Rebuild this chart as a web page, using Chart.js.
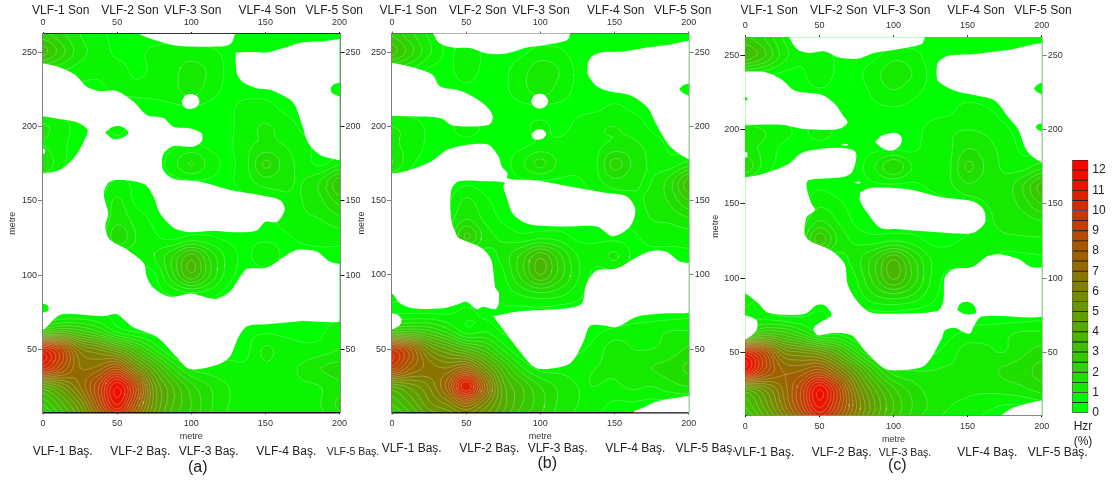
<!DOCTYPE html>
<html>
<head>
<meta charset="utf-8">
<script src="https://cdn.jsdelivr.net/npm/chart.js@4/dist/chart.umd.min.js"></script>
<style>
  body { margin: 0; background: #fff; width: 1113px; height: 481px; overflow: hidden; position: relative; font-family: "Liberation Sans", Arial, sans-serif; }
  canvas { position: absolute; left: 0; top: 0; }
  .lbl { position: absolute; transform: translate(-50%, -50%); white-space: nowrap; color: #222; font-size: 12px; z-index: 5; }
</style>
</head>
<body>
<canvas id="panelA" width="1113" height="481"></canvas>
<canvas id="panelB" width="1113" height="481"></canvas>
<canvas id="panelC" width="1113" height="481"></canvas>
<canvas id="scaleBar" width="1113" height="481"></canvas>
<script>
const gridX = [0, 12.5, 25, 37.5, 50, 62.5, 75, 87.5, 100, 112.5, 125, 137.5, 150, 162.5, 175, 187.5, 200];
const gridY = [262.5, 250, 237.5, 225, 212.5, 200, 187.5, 175, 162.5, 150, 137.5, 125, 112.5, 100, 87.5, 75, 62.5, 50, 37.5, 25, 12.5, 0];
const xTicks = [0, 50, 100, 150, 200];
const yTicks = [50, 100, 150, 200, 250];
const hzrTicks = [0, 1, 2, 3, 4, 5, 6, 7, 8, 9, 10, 11, 12];
const hzrLevels = [0.5, 1, 1.5, 2, 2.5, 3, 3.5, 4, 4.5, 5, 5.5, 6, 6.5, 7, 7.5, 8, 8.5, 9, 9.5, 10, 10.5, 11, 11.5, 12];

const fieldA = [
  [2.2,1.6,1,.6,.4,.3,.3,.3,.3,.3,.3,.3,.3,.3,.3,.3,.3],
  [3.2,2.2,1.2,.8,.4,.4,.6,.7,.7,.6,.4,.3,.3,.3,.3,.3,.3],
  [1.2,1,.7,.6,.7,.4,.6,.8,1.3,.9,.4,.3,.2,.2,.2,.2,.2],
  [.4,.4,.4,.4,.6,.6,.7,.8,1.3,.7,.4,.3,.3,.2,.2,.2,.4],
  [.3,.3,.3,.3,.3,.3,.3,.4,.4,.4,.4,.7,.7,.4,.3,.2,.2],
  [1.1,.7,.3,.2,.7,.2,.2,.2,.4,.4,.4,.8,1.05,.8,.4,.2,.2],
  [1,.6,.3,.2,.2,.2,.2,.4,.6,.4,.4,.9,1.1,1,.7,.3,.2],
  [1.5,.6,.3,.2,.2,.2,.2,.8,1.55,.8,.4,.9,2.1,1.3,.8,.4,.9],
  [.4,.3,.2,.2,.6,.4,.3,.3,.4,.4,.4,.8,1.2,1.1,1,1.6,2.9],
  [.2,.2,.2,.4,1.1,.4,.2,.2,.2,.2,.2,.4,.6,.9,1,1.4,2.2],
  [.2,.2,.2,.4,1.3,.8,.4,.2,.2,.2,.2,.2,.3,.7,.9,1,1.3],
  [.2,.2,.2,.4,1.9,1,.6,.4,.7,.6,.4,.4,.4,.4,.6,.7,.7],
  [.2,.2,.2,.2,.4,.7,1,2,3.3,1.9,.8,.4,.9,.4,.3,.3,.3],
  [.2,.2,.2,.2,.2,.3,.4,1.9,3.4,2,.7,.3,.2,.2,.2,.2,.2],
  [.2,.2,.2,.2,.2,.2,.3,.6,.9,.7,.3,.2,.2,.2,.2,.2,.2],
  [.3,.3,.4,.4,.4,.2,.2,.2,.2,.2,.2,.2,.2,.2,.2,.2,.2],
  [2.5,3,2.6,1.9,.8,.4,.3,.2,.2,.2,.2,.4,.4,.4,.4,.4,.9],
  [10.5,8.8,6.2,5.5,4.5,3,1.5,.4,.2,.2,.4,.4,1.1,.7,.6,.7,1],
  [10.3,8.6,7,7.2,8.2,5.8,3.8,2,.9,.7,.6,.6,.9,.8,1.1,1.5,1.7],
  [4.5,5.5,7,9,11.5,9,5.2,3.5,2.2,1.5,1,.8,.8,.8,.9,1,1.4],
  [2.5,3.8,5.5,8.4,11,8.2,5.2,3.5,2.5,1.6,1,.8,.7,.7,.7,1,1.6],
  [1.5,3,4.5,6.4,8.2,6.4,4.5,3,2.2,1.4,.9,.7,.6,.6,.6,.8,1.2]
];
const fieldB = [
  [2.4,1.6,.9,.4,.3,.2,.2,.2,.2,.2,.2,.2,.4,.3,.2,.2,.2],
  [3.2,2.2,1.1,.4,.8,.4,.3,.4,.7,.6,.3,.2,.2,.2,.2,.2,.2],
  [1.2,.9,.4,.4,.7,.4,.4,.8,1.3,1,.4,.2,.2,.2,.2,.2,.2],
  [.3,.3,.3,.3,.4,.3,.4,.8,1.3,.8,.4,.3,.2,.2,.2,.2,.4],
  [.2,.2,.2,.2,.2,.2,.3,.4,.4,.4,.4,.4,.6,.4,.3,.2,.2],
  [1,.8,.4,.4,.7,.4,.3,.4,.6,.4,.6,.9,1,.8,.4,.2,.2],
  [1.1,.8,.4,.3,.3,.3,.3,.4,.6,.6,.7,.9,1.1,1.1,.8,.4,.2],
  [1.5,.6,.3,.2,.2,.2,.3,.9,1.65,.9,.7,.9,2.2,1.4,.9,.7,1.2],
  [.3,.2,.2,.2,.4,.3,.3,.4,.4,.4,.4,.8,1.3,1.1,1,1.8,3.3],
  [.2,.2,.2,.4,1.1,.6,.3,.2,.2,.2,.2,.3,.6,.9,1.1,1.6,2.5],
  [.2,.2,.2,.7,1.5,.9,.4,.2,.2,.2,.2,.2,.3,.7,1,1.1,1.4],
  [.2,.2,.2,.8,2.6,1.3,.9,.7,.9,.8,.4,.4,.4,.4,.7,.7,.7],
  [.2,.2,.2,.2,.4,.7,1.2,2.2,3.4,2.2,1,.7,1.1,.4,.3,.3,.4],
  [.2,.2,.2,.2,.2,.3,.9,2.2,3.5,2.3,1.1,.3,.3,.2,.2,.2,.2],
  [.8,.4,.2,.2,.2,.3,.7,1.1,1.4,1.2,.7,.2,.2,.2,.2,.2,.2],
  [.4,.4,.4,.4,.6,.4,.4,.3,.3,.2,.2,.2,.2,.2,.2,.2,.3],
  [2.8,2.8,2.5,1.7,.7,.9,.4,.2,.2,.2,.2,.4,.6,.7,.8,1,1],
  [9.5,8,5.5,4.5,3.6,2.8,1.4,.4,.2,.2,.4,.7,1.3,1,1,1.2,1.6],
  [9.3,7.6,6.8,6.5,7.2,5.2,3.2,1.6,.8,.8,.8,1,1.1,1.3,1.5,1.7,2.1],
  [4.5,5.2,6,7.8,11,7.5,4.2,3,2,1.4,1,1,.9,1.1,1,1.3,1.5],
  [3,4,5.3,6,7.2,5.8,4.2,3,2.2,1.4,1,.7,.4,.4,.3,.3,.3],
  [2,3,4,4.4,5,4.4,3.6,2.4,1.8,1.2,.8,.4,.3,.2,.2,.2,.2]
];
const fieldC = [
  [2.6,2,1,.4,.2,.2,.2,.2,.2,.2,.2,.2,.4,.3,.2,.2,.2],
  [3.4,2.6,1.3,.6,.8,.4,.3,.4,.8,.7,.3,.2,.3,.2,.2,.2,.2],
  [.9,.7,.4,.4,.8,.4,.4,.8,1.4,1,.4,.2,.2,.2,.2,.2,.2],
  [.3,.3,.3,.3,.4,.3,.3,.6,.9,.6,.4,.3,.2,.2,.2,.2,.4],
  [.2,.2,.2,.2,.2,.2,.3,.4,.4,.4,.4,.4,.8,.6,.3,.2,.2],
  [1.2,1,.7,.4,.7,.4,.3,.4,.4,.4,.6,.9,1,.9,.6,.3,.3],
  [1.1,.9,.4,.3,.3,.3,.3,.4,.4,.4,.7,.9,1.5,1.2,.8,.4,.3],
  [1.9,.8,.3,.2,.2,.2,.3,1,2,1,.7,.9,2.1,1.4,.9,.8,1.3],
  [.3,.2,.2,.2,.4,.3,.3,.4,.4,.4,.6,.9,1.4,1.2,1.2,2,3.2],
  [.2,.2,.2,.4,.9,.6,.3,.2,.2,.2,.2,.4,.7,1,1.2,1.7,2.5],
  [.2,.2,.2,.7,1.6,1,.4,.2,.2,.2,.2,.2,.4,.8,1.2,1.2,1.4],
  [.2,.2,.2,.9,2.8,1.4,.9,.8,1,.8,.4,.4,.6,.7,.8,.9,.9],
  [.2,.2,.2,.2,.4,.7,1.3,2.3,3.5,2.2,1,.7,1,.6,.3,.3,.4],
  [.2,.2,.2,.2,.2,.3,1,2.3,3.6,2.4,1,.3,.3,.2,.2,.2,.2],
  [1.2,.7,.2,.2,.2,.3,.7,1.4,1.7,1.4,.7,.2,.2,.2,.2,.2,.2],
  [.9,.7,.4,.4,.6,.3,.3,.3,.3,.2,.2,.2,.4,.2,.2,.2,.3],
  [2.2,3,2.8,2,1,.9,.4,.2,.2,.2,.2,.4,.6,.8,.9,1.1,1.1],
  [10.2,8.6,6,5.5,5,3.8,2,.7,.2,.2,.4,.7,1.3,1.1,1,1.4,1.7],
  [11.2,9,7.5,7.5,8.2,6.5,4.5,2.5,1.2,1,1,1.1,1.1,1.3,1.6,1.8,2.2],
  [4.5,5.5,7,9,11.5,9.2,6,4,2.6,1.8,1.3,1.2,1.1,1.1,1.2,1.4,1.7],
  [3,4.5,6.5,8.7,11,9,6.5,4.5,3,2,1.4,1,.8,.6,.4,.4,.6],
  [2,3.5,5,7,8.8,7.5,5.5,3.8,2.5,1.6,1,.7,.4,.3,.2,.2,.3]
];

// outlines (metre, metre) of the blanked areas, nested outlines cut back to green
const blankA = [
  [[64,266],[66,262],[77,258],[88,255],[101,254],[115,254],[125,255],[128,258],[129,266]],
  [[130,250],[142,250.4],[151,250],[162,253],[173,256.5],[187,257.4],[206,257],[206,177],[200,177.5],[187,181],[179,189],[174.5,202],[169,216],[160,222],[153,225],[144,226],[135,230],[131,235],[130,242.6]],
  [[203,230],[196,228.5],[194,225],[196,222],[203,220.5]],
  [[-6,242.6],[0,242.6],[11.5,240],[21.6,235],[29.5,227],[38.5,224],[50,224],[61,217],[70,208],[81,206],[88,200],[99,199],[107,195.5],[107,190],[101,186.5],[88,187],[81,181],[81,171],[88,165],[106,163],[128,157],[146,154],[160,150.5],[163,144],[158,136],[150,136],[144,130],[128,129],[115,130],[99,129],[88,132],[79,141.5],[74.5,153],[69,161],[56,164],[45,163],[41,155],[44,141.5],[42,132.6],[45,124],[57,117],[68,108],[70,99],[75,91],[86,85.4],[100,87.7],[116,84],[126,89],[133,99],[138,104.5],[151,105],[162,112],[171,117],[184.6,116],[193.6,109],[206,105],[206,71],[173,69],[151,67],[138,65.7],[132,58.5],[126,45],[117,39.4],[99,36.7],[90,45],[76.7,58.5],[61,64.8],[55,69.7],[50,73.7],[40.7,72.4],[13.7,74],[8,70.8],[0,63],[-6,63]],
  [[-3,207],[0,207],[9,205.5],[22.7,203],[30,198],[28,191],[21.6,180],[11.5,171],[0,168.5],[-3,168.5]],
  [[-3,80],[1,80.5],[3.5,79],[3.5,76],[1,75],[-3,75]],
  [[42,196],[46,199.5],[51,200.5],[56,198.5],[57.5,195.5],[53,192.5],[47,192]],
  [[93.5,217],[96,221],[100,222],[104,220.5],[105.5,216.5],[103,213],[98,212],[95,213.5]],
  [[-1,185],[1,185],[1.5,183.5],[1,182],[-1,182]]
];
const blankB = [
  [[27,266],[28,262],[32,256],[41,253],[52.6,252.7],[64,249],[77,249],[91,253],[104,255],[118,258],[120,262],[121,266]],
  [[132,242.6],[134.6,247],[142,250],[156,250.4],[172,253],[187,255],[206,256],[206,178],[200,178],[187.5,186.5],[178.4,201],[172,213],[160.5,221],[147,223.5],[138,227],[132,235]],
  [[203,229.5],[197,228],[194,225],[197,222],[203,220.5]],
  [[-6,242.6],[0,242.6],[16.6,239],[27,235],[32.4,227],[46,224],[58,218],[65,212],[68,206],[65,201],[41,200.6],[33,205.5],[16.6,206.7],[0,207],[-6,207]],
  [[-6,168.5],[0,168.5],[10,170],[25.6,176],[39,185],[64,188],[71.7,180],[74,173],[77.8,168.5],[77.8,165],[97.5,163.6],[120,159.5],[142.5,155.5],[158,153],[164,144],[160.5,132.6],[149,126],[138,132.6],[120,132.6],[93,134],[82,140.5],[77,153],[75,159.5],[76,162],[64,163],[45,163],[40,157],[40,137],[44.6,125],[48,123.5],[60.5,118],[67,110],[69.5,92],[72,88],[71.7,80],[69.5,77],[61.5,78.7],[57,77],[50,82],[43.6,80],[34.6,77.6],[14.4,77.6],[5.4,81],[0,87.6],[-6,87.6]],
  [[68.3,72.4],[84,75.3],[100,76.4],[120,78],[128,81],[131,94],[138,103],[151.5,104.5],[165,112],[174,116],[185,115.6],[194,109],[206,106],[206,77],[183,74],[165,71.9],[151.5,65],[142.5,66],[133.5,65.7],[129,55],[120,40.5],[100,36.7],[93,40.5],[82,54],[71.7,67.5]],
  [[-6,74],[0,74],[4,73],[6.5,70],[5,66],[0,63.5],[-6,63.5]],
  [[160,3],[163,8],[170,11],[178,14.7],[190,17],[206,18],[206,3]],
  [[93.7,217],[96,221],[100,222],[103,221],[105.4,217],[103,213],[99,212],[95.5,213.5]],
  [[94,194.5],[97,197.5],[101,198],[104,195],[102,192],[98,191],[95,192]]
];
const blankC = [
  [[29,266],[30,261.7],[35,254.5],[42.5,252],[53.8,253],[62.8,249],[76,248],[87.5,252],[103,254.5],[119,258],[121,262],[122,266]],
  [[129,239],[130,245.5],[137,250],[152.8,251],[177.5,254],[206,256],[206,178],[200,178],[190,186],[184,200.6],[177.5,208.5],[168.5,219.7],[157,223],[141.5,226.4],[130,233]],
  [[203,232],[198,231],[195,228],[198,225],[203,224]],
  [[203,204.6],[198,204],[196,202],[198,199.8],[203,199]],
  [[-6,239.4],[0,239.4],[13,239],[24.5,234],[33.5,226.4],[51.5,223.7],[60.5,217.5],[66,209.6],[69,205],[63,200.6],[40,200.6],[24.5,203.5],[0,203.4],[-6,203.4]],
  [[-3,222],[1,222],[1.5,221],[1,220],[-3,220]],
  [[87.5,191.6],[92,196],[101,198],[105.5,195],[104.4,189.4],[98.8,186],[92,188]],
  [[-6,168],[0,168],[11,170],[29,177],[39,185],[63,188],[74.5,185],[72,171.4],[65,168],[42.5,166],[41.4,161],[44.8,150],[47,146],[41.4,141],[40,130],[43.6,125],[58,118.6],[67,109.6],[69,96],[75,85],[84,77],[101,76],[130,78],[133.6,85],[134.7,100.6],[140.4,106],[153,107.4],[164,115],[173,116],[184,113],[193,107.4],[206,105.6],[206,76],[159.5,74],[154,67],[151.6,62.5],[147,63.6],[141.5,66.5],[134.8,64.8],[132.5,59],[121,41],[103,37.8],[94,39],[80.7,51],[71.7,61.4],[58,63],[49,61.4],[46,66],[49,69.2],[58,74.9],[53.5,81.6],[48,81.6],[40,75.7],[15.5,76.6],[8.8,83],[0,89.5],[-6,89.5]],
  [[143,78.7],[145,82.7],[149.4,84],[154,82],[155.5,76.4],[148,75.7]],
  [[-6,75],[0,75],[7.6,71.5],[7.6,65],[0,58.5],[-6,58.5]],
  [[77.4,158],[85,161],[110,160],[132.5,154.6],[152.8,152],[160.6,146.7],[161.8,137.7],[155,131],[148,130],[130,131],[103.3,133],[91,134],[83,143],[77.4,152]],
  [[64.6,190],[67,190.7],[69.5,190],[67,189.3]],
  [[73.6,164.5],[76,165.2],[78,164.5],[76,163.8]],
  [[-1,185],[1,185],[1.5,183],[1,181.5],[-1,181.5]],
  [[170,3],[173,7.5],[182,13],[206,17],[206,3]]
];

const topLabels = ['VLF-1 Son', 'VLF-2 Son', 'VLF-3 Son', 'VLF-4 Son', 'VLF-5 Son'];
const bottomLabels = ['VLF-1 Baş.', 'VLF-2 Baş.', 'VLF-3 Baş.', 'VLF-4 Baş.', 'VLF-5 Baş.'];

const panels = [
  { id: 'panelA', tag: '(a)', field: fieldA, blank: blankA, left: 43, right: 339.5, top: 34, bottom: 412.3, yMin: 7.6, yMax: 262.5,
    edge: { l: '#808080', t: '#333', r: '#111', b: '#111' },
    topX: [60.7, 130, 192.7, 267.3, 334.3], topY: 10, botX: [62.7, 140.3, 208.7, 286.3, 353], botY: 450.7, small: 4, tagX: 197.7, tagY: 466.7 },
  { id: 'panelB', tag: '(b)', field: fieldB, blank: blankB, left: 392, right: 688.7, top: 33.5, bottom: 412.3, yMin: 7.6, yMax: 262.5,
    edge: { l: '#808080', t: '#666', r: '#808080', b: '#111' },
    topX: [408.3, 477.7, 541, 615.7, 682.7], topY: 10, botX: [411.7, 489.3, 557.7, 635.3, 705.5], botY: 448.3, small: -1, tagX: 547.3, tagY: 462.7 },
  { id: 'panelC', tag: '(c)', field: fieldC, blank: blankC, left: 745.3, right: 1041.7, top: 37.3, bottom: 415, yMin: 7.6, yMax: 262.5,
    edge: { l: '#222', t: '#222', r: '#808080', b: '#111' },
    topX: [769.3, 838.7, 901.7, 976, 1043], topY: 10, botX: [764.3, 841.7, 905, 987.3, 1057.7], botY: 452.3, small: 2, tagX: 897.3, tagY: 465 }
];

const levelColor = (i) => {
  const k = Math.max(0, Math.min(24, i));
  return [Math.round(255 * k / 24), Math.round(255 * (1 - k / 24)), 0];
};

const cubic = (a, b, c, d, t) =>
  b + 0.5 * t * (c - a + t * (2 * a - 5 * b + 4 * c - d + t * (3 * (b - c) + d - a)));

const sampleField = (field, x, y) => {
  const fx = Math.max(0, Math.min(gridX.length - 1, x / 12.5));
  const fy = Math.max(0, Math.min(gridY.length - 1, (262.5 - y) / 12.5));
  const ix = Math.min(gridX.length - 2, Math.floor(fx));
  const iy = Math.min(gridY.length - 2, Math.floor(fy));
  const column = [];
  for (let r = -1; r <= 2; r++) {
    const row = field[Math.max(0, Math.min(gridY.length - 1, iy + r))];
    const at = (c) => row[Math.max(0, Math.min(gridX.length - 1, ix + c))];
    column.push(cubic(at(-1), at(0), at(1), at(2), fx - ix));
  }
  return Math.max(0, cubic(column[0], column[1], column[2], column[3], fy - iy));
};

const contourSegments = (field, yMin, yMax) => {
  const step = 2.5;
  const xs = [];
  const ys = [];
  for (let x = 0; x <= 200; x += step) xs.push(x);
  for (let y = yMin; y <= yMax + step; y += step) ys.push(y);
  const values = ys.map((y) => xs.map((x) => sampleField(field, x, y)));
  const out = [];
  const gap = { x: null, y: null };
  hzrLevels.forEach((level) => {
    for (let j = 0; j < ys.length - 1; j++) {
      for (let i = 0; i < xs.length - 1; i++) {
        const a = values[j][i];
        const b = values[j][i + 1];
        const c = values[j + 1][i + 1];
        const d = values[j + 1][i];
        const hits = [];
        if ((a < level) !== (b < level)) hits.push({ x: xs[i] + step * (level - a) / (b - a), y: ys[j] });
        if ((b < level) !== (c < level)) hits.push({ x: xs[i + 1], y: ys[j] + step * (level - b) / (c - b) });
        if ((d < level) !== (c < level)) hits.push({ x: xs[i] + step * (level - d) / (c - d), y: ys[j + 1] });
        if ((a < level) !== (d < level)) hits.push({ x: xs[i], y: ys[j] + step * (level - a) / (d - a) });
        if (hits.length >= 2) out.push(hits[0], hits[1], gap);
        if (hits.length === 4) out.push(hits[2], hits[3], gap);
      }
    }
  });
  return out;
};

const fieldPlugin = {
  id: 'fieldPaint',
  beforeDatasetsDraw(chart, args, opts) {
    const { left, top, width, height } = chart.chartArea;
    const w = Math.ceil(width);
    const h = Math.ceil(height);
    const off = document.createElement('canvas');
    off.width = w;
    off.height = h;
    const octx = off.getContext('2d');
    const img = octx.createImageData(w, h);
    for (let py = 0; py < h; py++) {
      const y = chart.scales.y.getValueForPixel(top + py + 0.5);
      for (let px = 0; px < w; px++) {
        const x = chart.scales.x.getValueForPixel(left + px + 0.5);
        const col = levelColor(Math.floor(sampleField(opts.field, x, y) / 0.5));
        const k = (py * w + px) * 4;
        img.data[k] = col[0];
        img.data[k + 1] = col[1];
        img.data[k + 2] = col[2];
        img.data[k + 3] = 255;
      }
    }
    octx.putImageData(img, 0, 0);
    chart.ctx.drawImage(off, left, top, width, height);
  },
  afterDatasetsDraw(chart) {
    const path = new Path2D();
    chart.data.datasets.forEach((ds, i) => {
      if (ds.blankOutline) chart.getDatasetMeta(i).dataset.path(path);
    });
    const { left, top, width, height } = chart.chartArea;
    const ctx = chart.ctx;
    ctx.save();
    ctx.beginPath();
    ctx.rect(left, top, width, height);
    ctx.clip();
    ctx.fillStyle = '#fff';
    ctx.fill(path, 'evenodd');
    ctx.restore();
  }
};

const tickFont = { family: '"Liberation Sans", Arial, sans-serif', size: 9 };
const fixedTicks = (list) => (scale) => {
  scale.ticks = list.map((value) => ({ value }));
};

const axis = (position, list, min, max, color, size, extra) => {
  const upright = position === 'left' || position === 'right';
  return {
    type: 'linear',
    position,
    min,
    max,
    z: 1,
    afterBuildTicks: fixedTicks(list),
    afterFit: (s) => {
      if (upright) s.width = size;
      else s.height = size;
    },
    border: { color, width: 1.5 },
    grid: { drawOnChartArea: false, drawTicks: true, tickLength: upright ? 5 : 2, tickColor: color, tickWidth: 1 },
    ticks: { font: tickFont, color: '#333', padding: upright ? 1 : 4, autoSkip: false, maxRotation: 0, includeBounds: false },
    ...extra
  };
};

const metreTitle = { display: true, text: 'metre', font: { family: tickFont.family, size: 9 }, color: '#333', padding: 0 };

const addLabel = (text, x, y, size) => {
  const el = document.createElement('div');
  el.className = 'lbl';
  el.textContent = text;
  el.style.left = x + 'px';
  el.style.top = y + 'px';
  el.style.fontSize = size + 'px';
  document.body.appendChild(el);
};

panels.forEach((p) => {
  const leftW = 35.4;
  const rightW = 25;
  const topH = 22;
  const botH = 30;
  const datasets = [{
    label: 'Hzr contours',
    data: contourSegments(p.field, p.yMin, p.yMax),
    showLine: true,
    pointRadius: 0,
    borderColor: 'rgba(255,255,255,0.42)',
    borderWidth: 0.6,
    spanGaps: false,
    order: 2
  }];
  p.blank.forEach((outline, i) => {
    const pts = outline.map(([x, y]) => ({ x, y }));
    pts.push(pts[0]);
    datasets.push({
      label: 'blank ' + i,
      data: pts,
      showLine: true,
      pointRadius: 0,
      borderWidth: 0,
      borderColor: 'rgba(0,0,0,0)',
      tension: 0.3,
      blankOutline: true,
      order: 1
    });
  });
  new Chart(document.getElementById(p.id), {
    type: 'scatter',
    data: { datasets },
    plugins: [fieldPlugin],
    options: {
      responsive: false,
      animation: false,
      events: [],
      layout: { padding: { left: p.left - leftW, right: 1113 - p.right - rightW, top: p.top - topH, bottom: 481 - p.bottom - botH } },
      plugins: { legend: { display: false }, tooltip: { enabled: false }, fieldPaint: { field: p.field } },
      scales: {
        x: axis('bottom', xTicks, 0, 200, p.edge.b, botH, { title: metreTitle }),
        xTop: axis('top', xTicks, 0, 200, p.edge.t, topH),
        y: axis('left', yTicks, p.yMin, p.yMax, p.edge.l, leftW, { title: metreTitle }),
        yRight: axis('right', yTicks, p.yMin, p.yMax, p.edge.r, rightW)
      }
    }
  });

  topLabels.forEach((t, i) => addLabel(t, p.topX[i], p.topY, 12));
  bottomLabels.forEach((t, i) => addLabel(t, p.botX[i], p.botY, i === p.small ? 10.5 : 12));
  addLabel(p.tag, p.tagX, p.tagY, 16);
});

// colour scale
const barDatasets = [];
for (let i = 0; i < 25; i++) {
  const c = levelColor(i);
  barDatasets.push({
    label: 'level ' + i,
    data: [0.5],
    backgroundColor: `rgb(${c[0]},${c[1]},${c[2]})`,
    borderColor: '#222',
    borderWidth: 0.8,
    borderSkipped: false,
    barPercentage: 1,
    categoryPercentage: 1,
    stack: 'hzr'
  });
}
new Chart(document.getElementById('scaleBar'), {
  type: 'bar',
  data: { labels: ['Hzr'], datasets: barDatasets },
  options: {
    responsive: false,
    animation: false,
    events: [],
    layout: { padding: { left: 1072.3, right: 1113 - 1088.3 - 20, top: 160, bottom: 481 - 412.7 } },
    plugins: { legend: { display: false }, tooltip: { enabled: false } },
    scales: {
      x: { display: false, stacked: true },
      y: {
        stacked: true,
        position: 'right',
        min: 0,
        max: 12.5,
        afterBuildTicks: fixedTicks(hzrTicks),
        afterFit: (s) => { s.width = 20; },
        border: { display: false },
        grid: { display: false, drawTicks: false },
        ticks: { font: { family: tickFont.family, size: 12 }, color: '#222', padding: 4, autoSkip: false, includeBounds: false }
      }
    }
  }
});

addLabel('Hzr', 1083, 426, 12);
addLabel('(%)', 1083, 440.7, 12);
</script>
</body>
</html>
